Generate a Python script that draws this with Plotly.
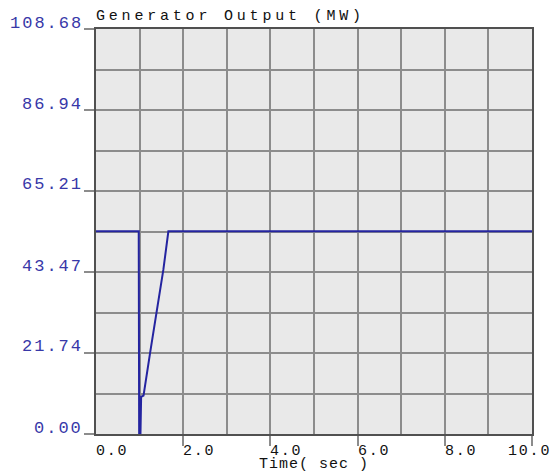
import plotly.graph_objects as go

# Generator electrical output after a disturbance near t = 1 s
time_s = [0.0, 0.98, 0.99, 1.02, 1.035, 1.09, 1.24, 1.39, 1.545, 1.66, 10.0]
output_mw = [54.4, 54.4, 0.0, 0.0, 10.0, 10.3, 21.7, 32.5, 44.1, 54.4, 54.4]

x_tick_vals = [0, 2, 4, 6, 8, 10]
x_tick_text = ["0.0", "2.0", "4.0", "6.0", "8.0", "10.0"]
y_tick_vals = [0.0, 21.74, 43.47, 65.21, 86.94, 108.68]
y_tick_text = ["0.00", "21.74", "43.47", "65.21", "86.94", "108.68"]

Y_MAX = 108.68
X_MAX = 10.0
MONO = "Liberation Mono, DejaVu Sans Mono, monospace"
LABEL_BLUE = "#3838a8"
LINE_BLUE = "#2424a0"
GRID = "#8c8c8c"


def spaced(text, px):
    return f'<span style="letter-spacing:{px}px">{text}</span>'


fig = go.Figure()
fig.add_trace(go.Scatter(
    x=time_s, y=output_mw, mode="lines",
    line=dict(color=LINE_BLUE, width=2),
    hoverinfo="skip", showlegend=False,
))

annotations = []
# y-axis value labels sit just above their tick marks
for v, t in zip(y_tick_vals, y_tick_text):
    annotations.append(dict(
        x=0, xref="paper", y=v, yref="y", xanchor="right", yanchor="middle",
        xshift=-11, yshift=6, showarrow=False,
        text=spaced(t, 2), font=dict(family=MONO, size=17, color=LABEL_BLUE),
    ))
# x-axis labels start at their tick; the last one is pulled back inside the page
for v, t in zip(x_tick_vals, x_tick_text):
    last = v == x_tick_vals[-1]
    annotations.append(dict(
        x=v, xref="x", y=0, yref="paper",
        xanchor="right" if last else "left", yanchor="top",
        xshift=21 if last else -2, yshift=-7, showarrow=False,
        text=spaced(t, 1.8), font=dict(family=MONO, size=15, color="#111111"),
    ))
annotations.append(dict(
    x=0.5, xref="paper", y=0, yref="paper", xanchor="center", yanchor="top",
    yshift=-20, showarrow=False,
    text=spaced("Time( sec )", 1), font=dict(family=MONO, size=15, color="#111111"),
))
annotations.append(dict(
    x=0, xref="paper", y=1, yref="paper", xanchor="left", yanchor="bottom",
    xshift=-2, yshift=2, showarrow=False,
    text=spaced("Generator Output (MW)", 3.8), font=dict(family=MONO, size=15, color="#111111"),
))

fig.update_layout(
    width=552, height=476,
    margin=dict(l=96, r=20, t=29, b=42),
    paper_bgcolor="white", plot_bgcolor="#e9e9e9",
    annotations=annotations,
    xaxis=dict(
        range=[0, X_MAX], tickvals=x_tick_vals[1:], showticklabels=False,
        ticks="outside", ticklen=10, tickcolor=GRID, tickwidth=1.5,
        showgrid=True, gridcolor=GRID, gridwidth=1.5,
        minor=dict(dtick=1, showgrid=True, gridcolor=GRID, gridwidth=1.5),
        showline=True, linecolor="#505050", linewidth=2, mirror=True,
        zeroline=False, fixedrange=True,
    ),
    yaxis=dict(
        range=[0, Y_MAX], tickvals=y_tick_vals, showticklabels=False,
        ticks="outside", ticklen=10, tickcolor=GRID, tickwidth=1.5,
        showgrid=True, gridcolor=GRID, gridwidth=1.5,
        minor=dict(tick0=0, dtick=Y_MAX / 10, showgrid=True, gridcolor=GRID, gridwidth=1.5),
        showline=True, linecolor="#505050", linewidth=2, mirror=True,
        zeroline=False, fixedrange=True,
    ),
)

fig.write_html("out.html", config={"displayModeBar": False})
